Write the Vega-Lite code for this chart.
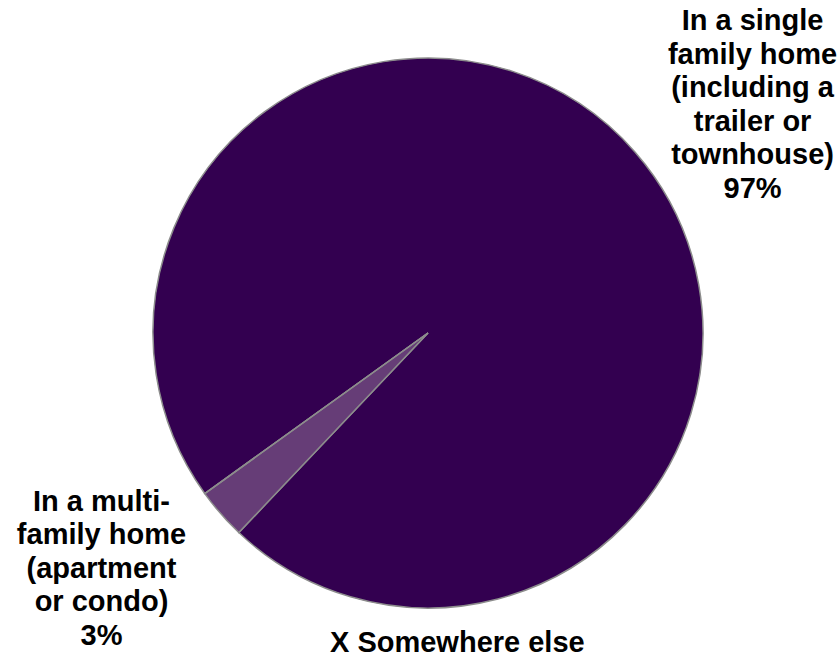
{
  "$schema": "https://vega.github.io/schema/vega-lite/v6.json",
  "autosize": "none",
  "width": 824,
  "height": 654,
  "padding": {"left": 16, "top": 6, "right": 0, "bottom": 0},
  "background": "white",
  "config": {"view": {"stroke": null}},
  "data": {
    "values": [
      {"category": "In a single family home (including a trailer or townhouse)", "label": "In a single\nfamily home\n(including a\ntrailer or\ntownhouse)\n97%", "value": 97, "rank": 1},
      {"category": "In a multi-family home (apartment or condo)", "label": "In a multi-\nfamily home\n(apartment\nor condo)\n3%", "value": 3, "rank": 2},
      {"category": "Somewhere else", "label": "X Somewhere else", "value": 0, "rank": 3}
    ]
  },
  "encoding": {
    "theta": {"field": "value", "type": "quantitative", "stack": true, "scale": {"range": [4.089, 10.372]}},
    "order": {"field": "rank", "type": "quantitative"}
  },
  "layer": [
    {
      "mark": {"type": "arc", "outerRadius": 275, "stroke": "#8c8c8c", "strokeWidth": 1.5},
      "encoding": {
        "color": {
          "field": "category", "type": "nominal", "legend": null,
          "scale": {
            "domain": ["In a single family home (including a trailer or townhouse)", "In a multi-family home (apartment or condo)", "Somewhere else"],
            "range": ["#330050", "#663d77", "#9c7fb0"]
          }
        }
      }
    },
    {
      "mark": {"type": "text", "radius": 395, "dx": 27, "dy": -52, "font": "Liberation Sans", "fontWeight": "bold", "fontSize": 29, "lineHeight": 33.5, "lineBreak": "\n", "align": "center", "baseline": "middle", "color": "#000000"},
      "encoding": {
        "text": {"condition": {"test": "datum.rank == 1", "field": "label"}, "value": ""}
      }
    },
    {
      "mark": {"type": "text", "radius": 395, "dx": -29, "dy": -91, "font": "Liberation Sans", "fontWeight": "bold", "fontSize": 29, "lineHeight": 33.5, "lineBreak": "\n", "align": "center", "baseline": "middle", "color": "#000000"},
      "encoding": {
        "text": {"condition": {"test": "datum.rank == 2", "field": "label"}, "value": ""}
      }
    },
    {
      "mark": {"type": "text", "radius": 395, "dx": 350, "dy": 79, "font": "Liberation Sans", "fontWeight": "bold", "fontSize": 29, "lineHeight": 33.5, "lineBreak": "\n", "align": "center", "baseline": "middle", "color": "#000000"},
      "encoding": {
        "text": {"condition": {"test": "datum.rank == 3", "field": "label"}, "value": ""}
      }
    }
  ]
}
